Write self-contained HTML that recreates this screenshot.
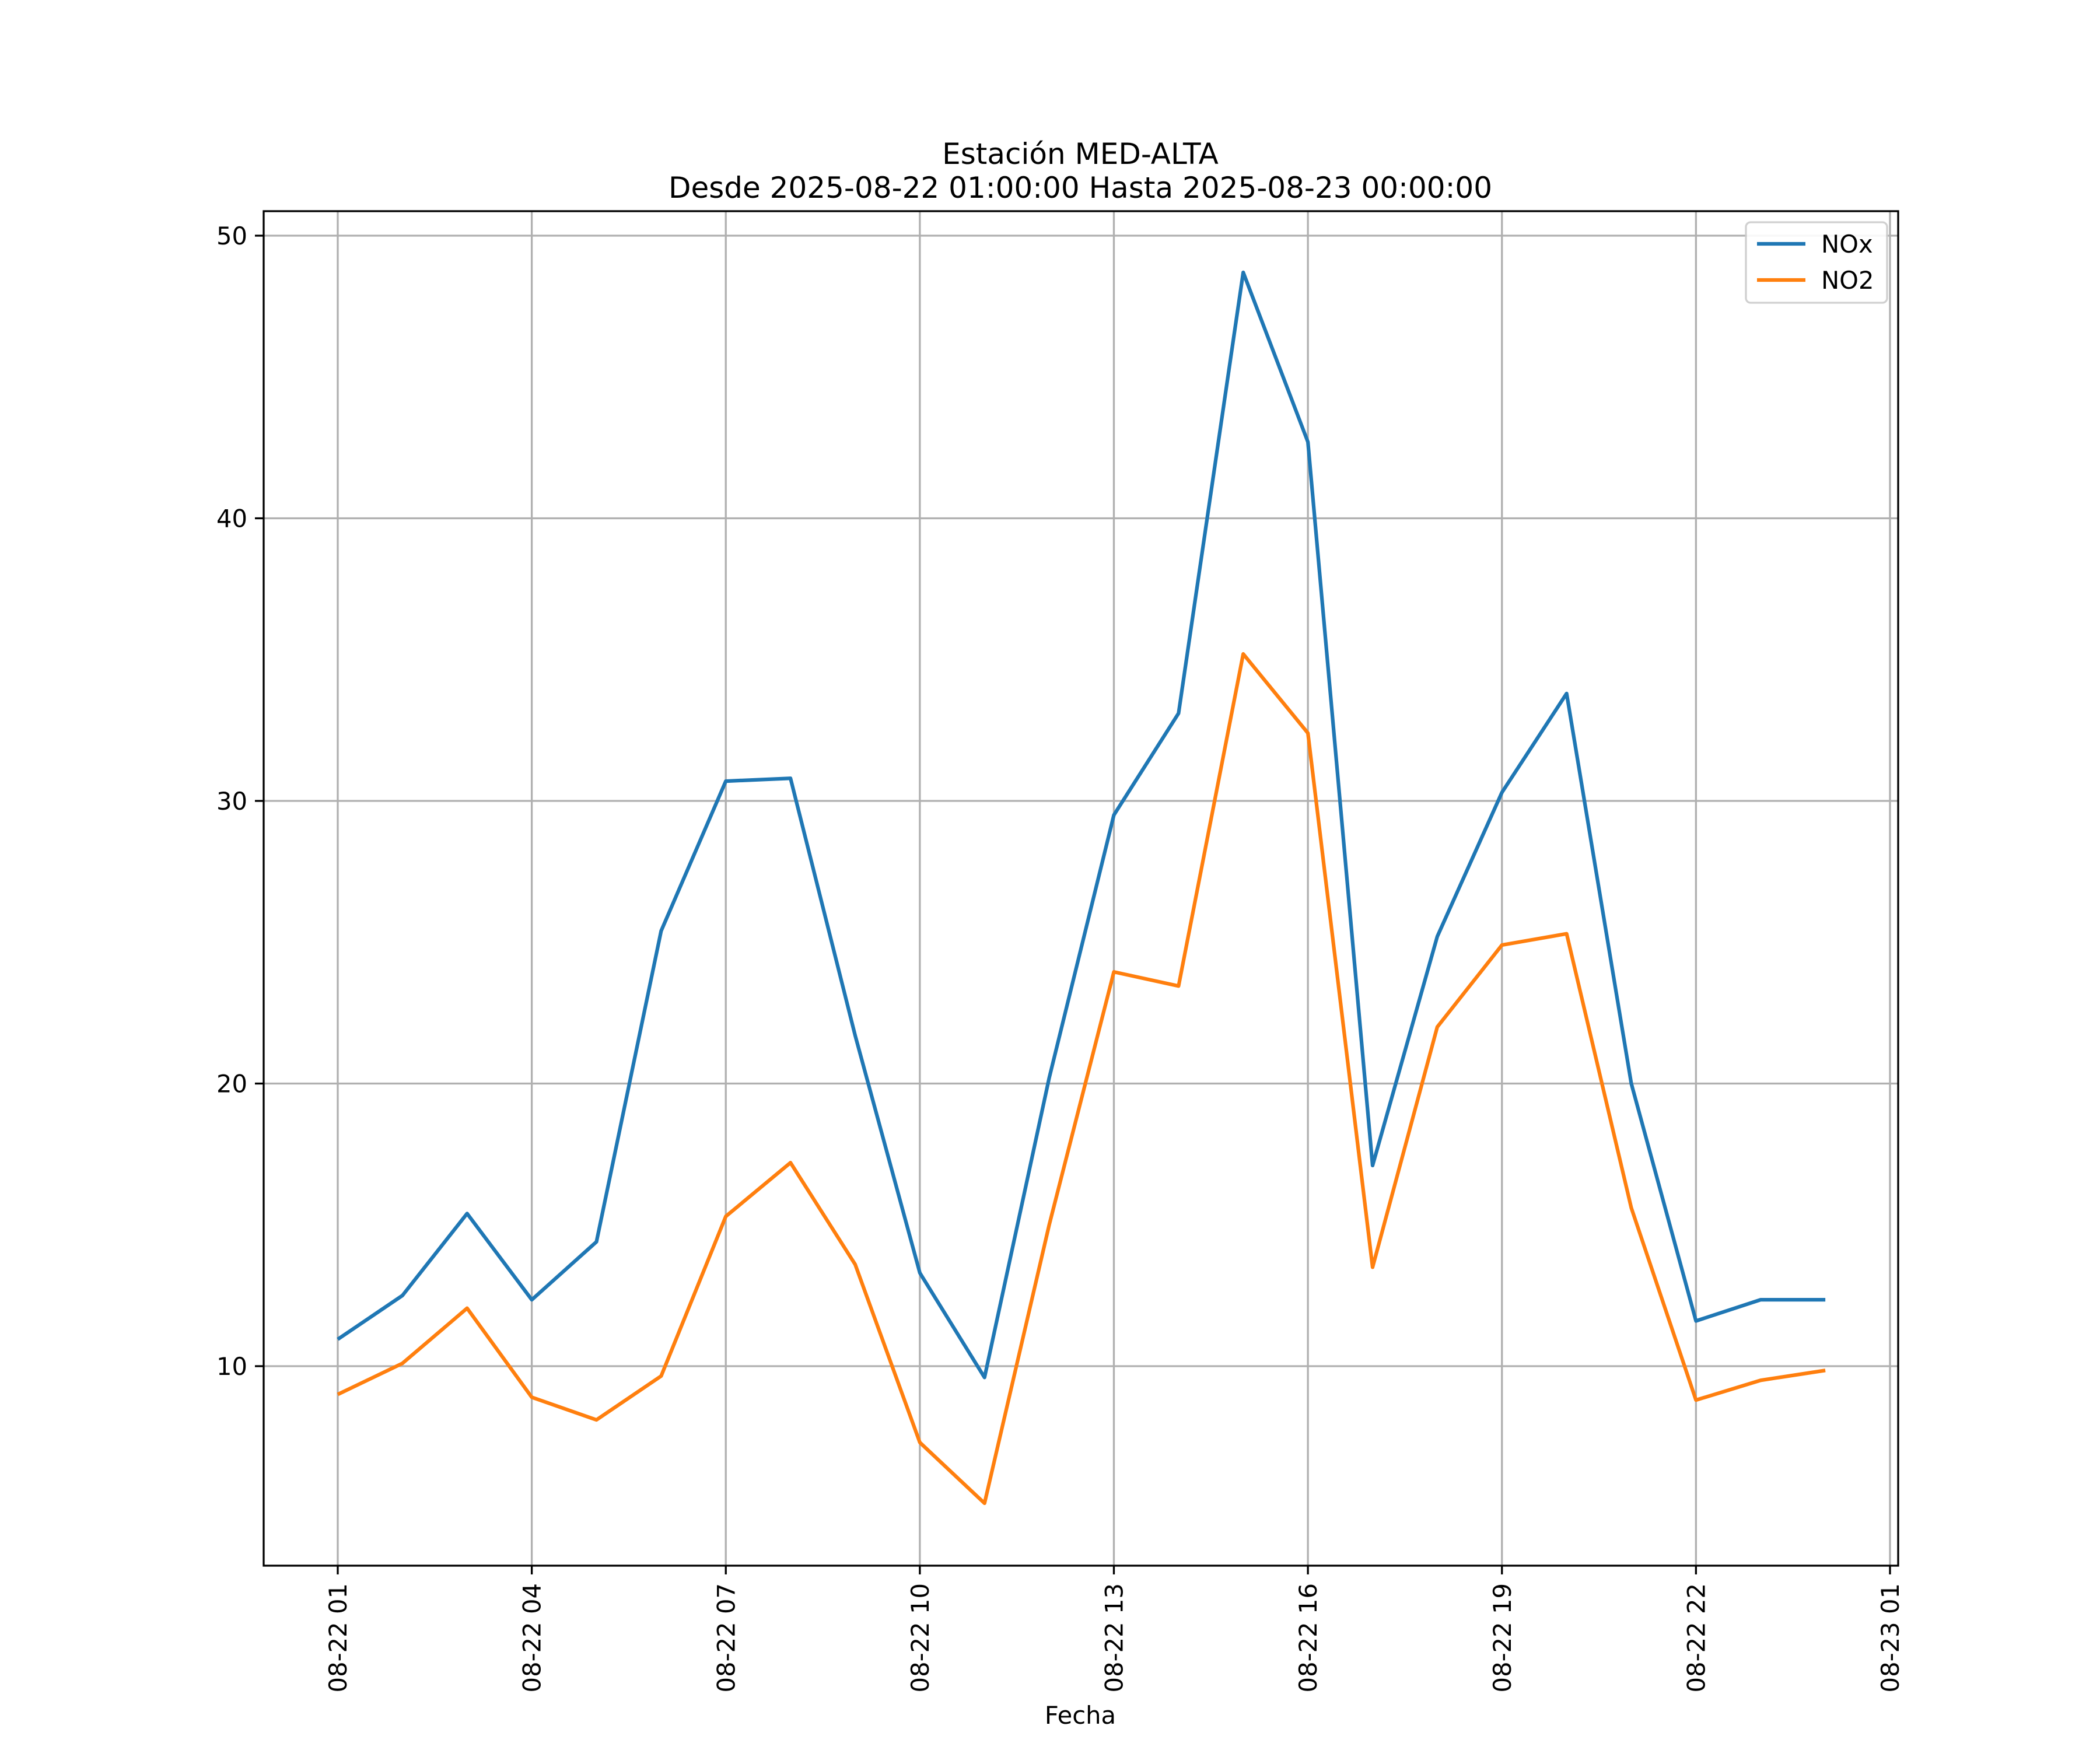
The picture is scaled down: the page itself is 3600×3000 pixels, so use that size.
<!DOCTYPE html>
<html><head><meta charset="utf-8"><style>
html,body{margin:0;padding:0;background:#fff}
svg{display:block;font-family:"DejaVu Sans","Liberation Sans",sans-serif}
</style></head><body>
<svg id="chart" width="3600" height="3000" viewBox="0 0 3600 3000">
<rect width="3600" height="3000" fill="#fff"/>
<g id="grid"></g>
<g id="series"></g>
<rect x="452" y="362" width="2802" height="2322" fill="none" stroke="#000" stroke-width="3.3"/>
<g id="ticks"></g>
<text x="1852" y="281" text-anchor="middle" font-size="50">Estación MED-ALTA</text>
<text x="1852" y="339" text-anchor="middle" font-size="50">Desde 2025-08-22 01:00:00 Hasta 2025-08-23 00:00:00</text>
<text x="1852" y="2955" text-anchor="middle" font-size="41.7">Fecha</text>
<g>
<rect x="2993" y="381" width="242" height="138" rx="8" fill="#fff" stroke="#ccc" stroke-width="3.3" opacity="0.9"/>
<line x1="3012" y1="418" x2="3095" y2="418" stroke="#1f77b4" stroke-width="6.25"/>
<text x="3122" y="433" font-size="41.7">NOx</text>
<line x1="3012" y1="480" x2="3095" y2="480" stroke="#ff7f0e" stroke-width="6.25"/>
<text x="3122" y="495" font-size="41.7">NO2</text>
</g>
</svg>
<script>
const hours = [1,2,3,4,5,6,7,8,9,10,11,12,13,14,15,16,17,18,19,20,21,22,23,24];
const noxValues = [10.95,12.5,15.4,12.35,14.4,25.4,30.7,30.8,21.7,13.3,9.6,20.2,29.5,33.1,48.7,42.7,17.1,25.2,30.3,33.8,20.0,11.6,12.35,12.35];
const no2Values = [9.0,10.1,12.05,8.9,8.1,9.65,15.3,17.2,13.6,7.3,5.15,15.0,23.95,23.45,35.2,32.4,13.5,22.0,24.9,25.3,15.6,8.8,9.5,9.85];
const yTicks = [10,20,30,40,50];
const xTickHours = [1,4,7,10,13,16,19,22,25];
const xTickLabels = ["08-22 01","08-22 04","08-22 07","08-22 10","08-22 13","08-22 16","08-22 19","08-22 22","08-23 01"];
const NS="http://www.w3.org/2000/svg";
function xs(h){return 579+(h-1)*(3240-579)/24;}
function ys(v){return 2342-(v-10)*(2342-404)/40;}
const grid=document.getElementById('grid'),ticks=document.getElementById('ticks'),series=document.getElementById('series');
function mk(tag,attrs,parent){const e=document.createElementNS(NS,tag);for(const k in attrs)e.setAttribute(k,attrs[k]);parent.appendChild(e);return e;}
yTicks.forEach(v=>{
  const y=ys(v);
  const g=mk('line',{x1:452,x2:3254,y1:y,y2:y,stroke:'#b0b0b0','stroke-width':3.3},grid);
  
  
  const t=mk('line',{x1:437,x2:452,y1:y,y2:y,stroke:'#000','stroke-width':3.3},ticks);
  
  
  const l=mk('text',{x:424,y:y+15,'text-anchor':'end','font-size':41.7},ticks);
  l.textContent=v;
  
  
});
xTickHours.forEach((h,i)=>{
  const x=xs(h);
  const g=mk('line',{x1:x,x2:x,y1:362,y2:2684,stroke:'#b0b0b0','stroke-width':3.3},grid);
  
  
  const t=mk('line',{x1:x,x2:x,y1:2684,y2:2699,stroke:'#000','stroke-width':3.3},ticks);
  
  
  const l=mk('text',{x:0,y:0,'text-anchor':'end','font-size':41.7,transform:`translate(${x+15},2714) rotate(-90)`},ticks);
  l.textContent=xTickLabels[i];
  
  
});
function drawLine(vals,color,name){
  const p=mk('polyline',{points:vals.map((v,i)=>xs(hours[i])+','+ys(v)).join(' '),fill:'none',stroke:color,'stroke-width':6.25,'stroke-linejoin':'round'},series);
  
  
}
drawLine(noxValues,'#1f77b4','nox-line');
drawLine(no2Values,'#ff7f0e','no2-line');
</script>
</body></html>
